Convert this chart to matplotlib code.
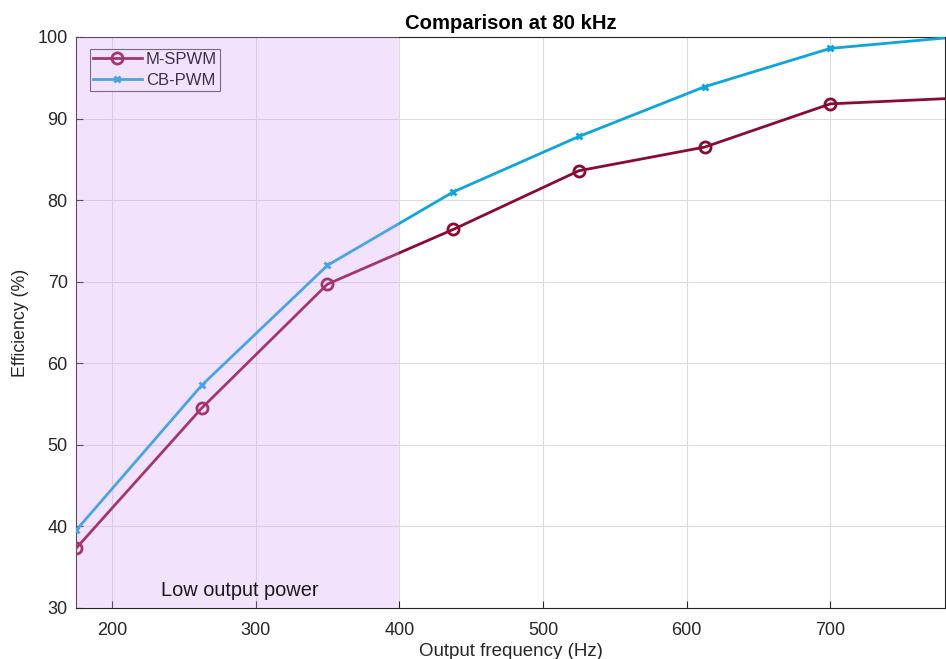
import matplotlib
matplotlib.use("Agg")
import matplotlib.pyplot as plt

# values
freq = [175, 262.5, 350, 437.5, 525, 612.5, 700, 787.5]
m_spwm = [37.3, 54.5, 69.7, 76.4, 83.6, 86.5, 91.8, 92.5]
cb_pwm = [39.5, 57.3, 72.0, 81.0, 87.8, 93.9, 98.6, 100.0]
low_power_band = (175, 400)

plt.rcParams["font.family"] = ["Liberation Sans", "DejaVu Sans"]

fig = plt.figure(figsize=(9.46, 6.59), dpi=100)
ax = fig.add_axes([0.0803, 0.0774, 0.919, 0.8665])

ax.plot(freq, m_spwm, "-o", color="#8c0a32", lw=2.0, ms=8, mfc="none",
        mew=2.0, label="M-SPWM", zorder=3)
ax.plot(freq, cb_pwm, "-x", color="#0ea5dd", lw=2.0, ms=5, mew=2.0,
        label="CB-PWM", zorder=3)

ax.set_xlim(175, 780)
ax.set_ylim(30, 100)
ax.set_xticks([200, 300, 400, 500, 600, 700])
ax.set_yticks(range(30, 101, 10))
ax.grid(True, color="#dcdcdc", lw=0.8, zorder=0)
ax.set_axisbelow(True)
ax.tick_params(direction="in", length=5, labelsize=13, colors="#262626")
ax.tick_params(axis="x", pad=10)
ax.tick_params(axis="y", pad=6)
for s in ax.spines.values():
    s.set_color("#262626")
    s.set_linewidth(0.8)

ax.set_xlabel("Output frequency (Hz)", fontsize=13.5, color="#262626", labelpad=3)
ax.set_ylabel("Efficiency (%)", fontsize=12.8, color="#262626", labelpad=6)
ax.set_title("Comparison at 80 kHz", fontsize=14.6, fontweight="bold", pad=6)

leg = ax.legend(loc="upper left", bbox_to_anchor=(0.016, 0.979), fontsize=12,
                frameon=True, fancybox=False, edgecolor="#262626",
                handlelength=2.9, borderpad=0.2, labelspacing=0.35,
                handletextpad=0.25, borderaxespad=0)
leg.get_frame().set_linewidth(0.8)
leg.set_zorder(4)

# translucent shading drawn over the lines and legend
ax.axvspan(*low_power_band, color=(0.85, 0.63, 0.97), alpha=0.3, lw=0, zorder=5)
ax.text(289, 32.1, "Low output power", fontsize=14.4, color="#1a1a1a",
        ha="center", va="center", zorder=6)

fig.savefig("out.png", dpi=100)
